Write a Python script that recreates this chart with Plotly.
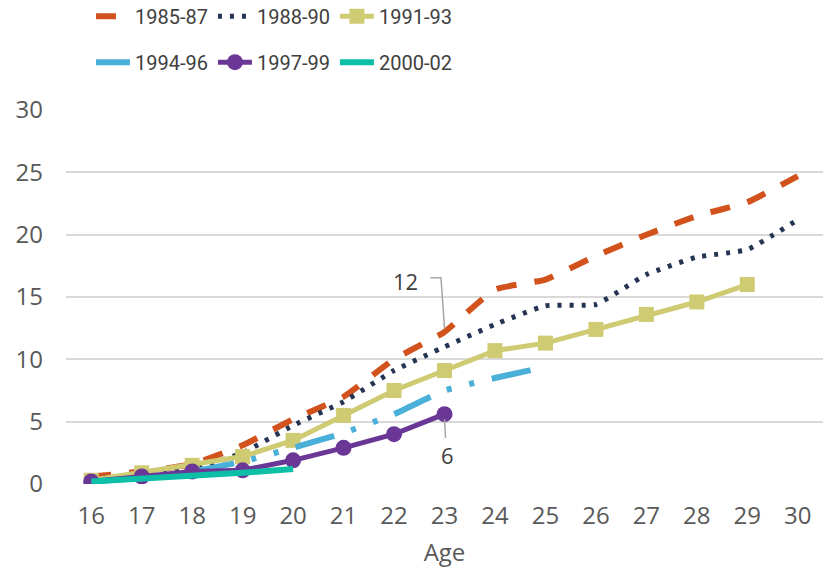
import plotly.graph_objects as go

ages = list(range(16, 31))
s1985 = [0.6, 1.0, 1.6, 3.1, 5.2, 7.0, 10.0, 12.2, 15.6, 16.4, 18.3, 20.0, 21.5, 22.6, 24.7]
s1988 = [0.4, 0.7, 1.2, 2.5, 4.7, 6.6, 9.1, 11.0, 12.8, 14.3, 14.4, 16.8, 18.2, 18.8, 21.2]
s1991 = [0.3, 0.9, 1.5, 2.2, 3.5, 5.5, 7.5, 9.1, 10.7, 11.3, 12.4, 13.6, 14.6, 16.0]
s1994 = [0.2, 0.5, 1.0, 1.8, 2.9, 4.1, 5.6, 7.5, 8.5, 9.4]
s1997 = [0.2, 0.6, 1.0, 1.1, 1.9, 2.9, 4.0, 5.6]
s2000 = [0.2, 0.4, 0.6, 0.9, 1.2]
names = ["1985-87", "1988-90", "1991-93", "1994-96", "1997-99", "2000-02"]
yticks = [0, 5, 10, 15, 20, 25, 30]

FONT = "Open Sans, Roboto, sans-serif"
LFONT = "Roboto, Open Sans, sans-serif"

fig = go.Figure()
fig.add_trace(go.Scatter(x=ages[:len(s1985)], y=s1985, name=names[0], mode="lines",
                         line=dict(color="#D2521E", width=6, dash="20px,18px", shape="spline", smoothing=0.4),
                         legend="legend"))
fig.add_trace(go.Scatter(x=ages[:len(s1988)], y=s1988, name=names[1], mode="lines",
                         line=dict(color="#243452", width=5, dash="4px,8px", shape="spline", smoothing=0.4),
                         legend="legend"))
fig.add_trace(go.Scatter(x=ages[:len(s1991)], y=s1991, name=names[2], mode="lines+markers",
                         line=dict(color="#CFCB73", width=5),
                         marker=dict(symbol="square", size=15, color="#CFCB73"),
                         legend="legend"))
fig.add_trace(go.Scatter(x=ages[:len(s1994)], y=s1994, name=names[3], mode="lines",
                         line=dict(color="#4AB0D9", width=6, dash="40px,18px,5px,18px,5px,18px", shape="spline", smoothing=0.4),
                         legend="legend2"))
fig.add_trace(go.Scatter(x=ages[:len(s1997)], y=s1997, name=names[4], mode="lines+markers",
                         line=dict(color="#6B3796", width=5),
                         marker=dict(symbol="circle", size=16, color="#6B3796"),
                         legend="legend2"))
fig.add_trace(go.Scatter(x=ages[:len(s2000)], y=s2000, name=names[5], mode="lines",
                         line=dict(color="#0DBFA7", width=6),
                         legend="legend2"))

# annotations
fig.add_annotation(x=22.22, y=16.3, text="12", showarrow=False,
                   font=dict(family=FONT, size=22, color="#404040"))
fig.add_shape(type="path", path="M 22.72,16.55 L 22.93,16.55 L 23.0,12.5",
              line=dict(color="#A6A6A6", width=1.5))
fig.add_annotation(x=23.05, y=2.3, text="6", showarrow=False,
                   font=dict(family=FONT, size=22, color="#404040"))
fig.add_shape(type="line", x0=23.0, y0=5.2, x1=23.02, y1=3.7,
              line=dict(color="#A6A6A6", width=1.5))

leg = dict(orientation="h", xanchor="left", yanchor="middle", bgcolor="rgba(0,0,0,0)",
           font=dict(family=LFONT, size=20, color="#404040"), itemwidth=34,
           tracegroupgap=0, traceorder="normal")
fig.update_layout(
    width=832, height=568,
    margin=dict(l=66, r=9, t=110, b=84, autoexpand=False),
    paper_bgcolor="white", plot_bgcolor="white",
    font=dict(family=FONT, color="#595959"),
    legend=dict(leg, x=0.033, y=1.251),
    legend2=dict(leg, x=0.033, y=1.128),
    xaxis=dict(range=[15.5, 30.5], tickvals=ages, ticktext=[str(a) for a in ages],
               showgrid=False, zeroline=False, showline=False, automargin=False,
               tickfont=dict(family=FONT, size=24, color="#595959"), ticklabelstandoff=15,
               title=dict(text="Age", font=dict(family=FONT, size=24, color="#595959"), standoff=14)),
    yaxis=dict(range=[0, 30], tickvals=yticks, showgrid=True, gridcolor="#D9D9D9", gridwidth=1.5,
               zeroline=False, showline=False, automargin=False,
               tickfont=dict(family=FONT, size=24, color="#595959"), ticklabelstandoff=22),
    showlegend=True,
)
fig.write_html("out.html", config={"displayModeBar": False},
               post_script="document.body.style.margin='0px';")
